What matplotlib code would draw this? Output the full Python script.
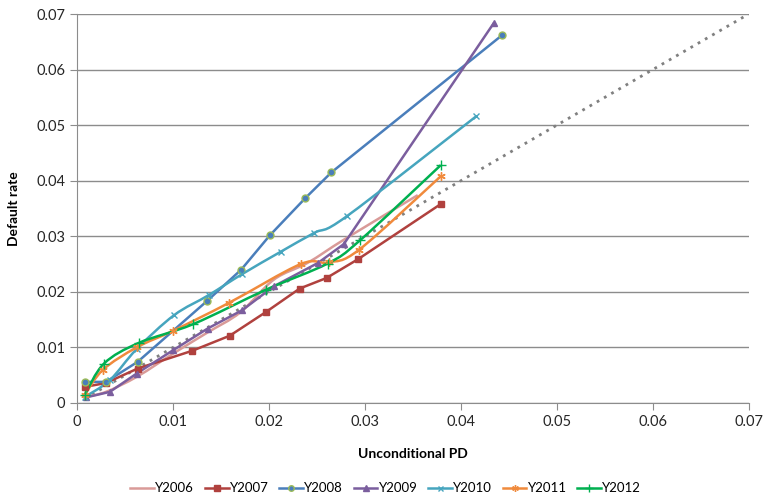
import matplotlib
matplotlib.use('Agg')
import matplotlib.pyplot as plt
import numpy as np
from matplotlib.path import Path
from matplotlib.patches import PathPatch
from matplotlib.lines import Line2D

plt.rcParams['font.family'] = ['Lato', 'DejaVu Sans']

# values
y2006_x = [0.0008, 0.0030, 0.0063, 0.0101, 0.0136, 0.0170, 0.0205, 0.0240, 0.0280, 0.0355]
y2006_y = [0.0011, 0.0020, 0.0048, 0.0090, 0.0127, 0.0163, 0.0222, 0.0252, 0.0296, 0.0374]

y2007_x = [0.0008, 0.0030, 0.0063, 0.0120, 0.0159, 0.0197, 0.0232, 0.0260, 0.0293, 0.0379]
y2007_y = [0.0029, 0.0036, 0.0062, 0.0094, 0.0121, 0.0164, 0.0206, 0.0225, 0.0259, 0.0358]

y2008_x = [0.0008, 0.0030, 0.0063, 0.0135, 0.0171, 0.0201, 0.0238, 0.0265, 0.0443]
y2008_y = [0.0038, 0.0038, 0.0074, 0.0183, 0.0240, 0.0302, 0.0369, 0.0415, 0.0662]

y2009_x = [0.0009, 0.0034, 0.0062, 0.0100, 0.0136, 0.0172, 0.0205, 0.0251, 0.0278, 0.0434]
y2009_y = [0.0010, 0.0020, 0.0053, 0.0095, 0.0134, 0.0167, 0.0210, 0.0252, 0.0286, 0.0683]

y2010_x = [0.0008, 0.0034, 0.0062, 0.0101, 0.0137, 0.0172, 0.0212, 0.0247, 0.0281, 0.0416]
y2010_y = [0.0011, 0.0041, 0.0097, 0.0158, 0.0194, 0.0232, 0.0272, 0.0306, 0.0336, 0.0516]

y2011_x = [0.0008, 0.0027, 0.0062, 0.0100, 0.0158, 0.0233, 0.0262, 0.0294, 0.0379]
y2011_y = [0.0015, 0.0060, 0.0100, 0.0130, 0.0180, 0.0250, 0.0253, 0.0276, 0.0408]

y2012_x = [0.0008, 0.0028, 0.0064, 0.0121, 0.0197, 0.0261, 0.0295, 0.0379]
y2012_y = [0.0015, 0.0071, 0.0108, 0.0142, 0.0204, 0.0251, 0.0293, 0.0428]

diag = [0.0008, 0.07]

names = ['Y2006', 'Y2007', 'Y2008', 'Y2009', 'Y2010', 'Y2011', 'Y2012']
xs = [y2006_x, y2007_x, y2008_x, y2009_x, y2010_x, y2011_x, y2012_x]
ys = [y2006_y, y2007_y, y2008_y, y2009_y, y2010_y, y2011_y, y2012_y]

colors = ['#D99A98', '#B0413E', '#4A7EBB', '#7B5E9E', '#46A5BE', '#F08A3C', '#00B050']
markers = [None, 's', 'o', '^', 'x', (6, 2, 0), '+']
msizes = [0, 5, 5, 5, 4.5, 6, 6.5]
smooth = [True, False, False, False, True, True, True]


def smooth_path(x, y):
    # Excel-like smoothed line: bezier segments through the points
    p = np.column_stack([x, y])
    n = len(p)
    verts = [p[0]]
    codes = [Path.MOVETO]
    for i in range(n - 1):
        p0 = p[i - 1] if i > 0 else p[i]
        p3 = p[i + 2] if i + 2 < n else p[i + 1]
        c1 = p[i] + (p[i + 1] - p0) / 6.0
        c2 = p[i + 1] - (p3 - p[i]) / 6.0
        verts += [c1, c2, p[i + 1]]
        codes += [Path.CURVE4] * 3
    return Path(verts, codes)


fig = plt.figure(figsize=(7.64, 5.0), dpi=100)
ax = fig.add_axes([0.101, 0.194, 0.879, 0.778])

ax.plot(diag, diag, color='#808080', linestyle=(0, (1, 2)), linewidth=2, zorder=2)

handles = []
for i in range(len(names)):
    c = colors[i]
    if smooth[i]:
        ax.add_patch(PathPatch(smooth_path(xs[i], ys[i]), facecolor='none',
                               edgecolor=c, linewidth=1.8, zorder=3))
    else:
        ax.plot(xs[i], ys[i], color=c, linewidth=1.8, zorder=3)
    edge = '#9BBB59' if markers[i] == 'o' else c
    if markers[i] is not None:
        ax.plot(xs[i], ys[i], linestyle='None', marker=markers[i], markersize=msizes[i],
                markerfacecolor=c, markeredgecolor=edge, markeredgewidth=1, zorder=4)
    handles.append(Line2D([], [], color=c, linewidth=1.8, marker=markers[i],
                          markersize=msizes[i] * 0.8, markerfacecolor=c,
                          markeredgecolor=edge, label=names[i]))

ax.set_xlim(0, 0.07)
ax.set_ylim(0, 0.07)
ticks = [0, 0.01, 0.02, 0.03, 0.04, 0.05, 0.06, 0.07]
tick_labels = ['0', '0.01', '0.02', '0.03', '0.04', '0.05', '0.06', '0.07']
ax.set_xticks(ticks)
ax.set_xticklabels(tick_labels)
ax.set_yticks(ticks)
ax.set_yticklabels(tick_labels)
ax.yaxis.grid(True, color='#8C8C8C', linewidth=1)
ax.set_axisbelow(True)
for s in ['top', 'right']:
    ax.spines[s].set_visible(False)
for s in ['left', 'bottom']:
    ax.spines[s].set_color('#8C8C8C')
ax.tick_params(axis='both', colors='#8C8C8C', labelcolor='#262626', labelsize=10.5,
               length=5, direction='out')
ax.set_xlabel('Unconditional PD', fontsize=10, fontweight='bold', labelpad=14)
ax.set_ylabel('Default rate', fontsize=10, fontweight='bold', labelpad=12)

fig.legend(handles=handles, loc='lower center', ncol=7, frameon=False, fontsize=9.5,
           bbox_to_anchor=(0.505, -0.012), handlelength=1.8, handletextpad=0.1,
           columnspacing=0.8)

fig.savefig('out.png', dpi=100)
